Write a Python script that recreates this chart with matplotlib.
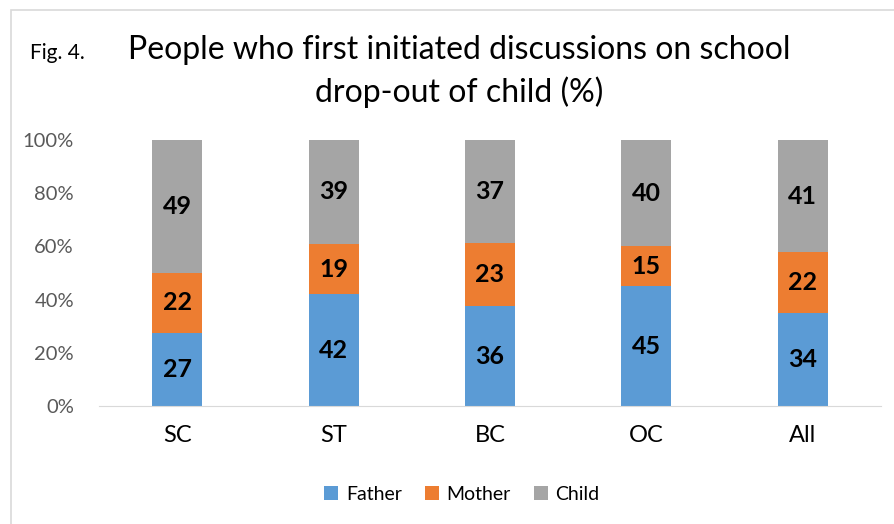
import numpy as np
import matplotlib
matplotlib.use("Agg")
import matplotlib.pyplot as plt
from matplotlib.patches import Rectangle

categories = ["SC", "ST", "BC", "OC", "All"]
father = [27, 42, 36, 45, 34]
mother = [22, 19, 23, 15, 22]
child = [49, 39, 37, 40, 41]

series = [("Father", father, "#5b9bd5"),
          ("Mother", mother, "#ed7d31"),
          ("Child", child, "#a5a5a5")]

plt.rcParams['font.family'] = ['Lato', 'DejaVu Sans']

fig = plt.figure(figsize=(8.95, 5.24), dpi=100)
ax = fig.add_axes([99 / 895, 1 - 406 / 524, 782 / 895, 266 / 524])

# chart border
fig.patches.append(Rectangle((11 / 895, -0.01), 1.0, 1 - 10 / 524 + 0.01,
                             transform=fig.transFigure, fill=False,
                             edgecolor="#d9d9d9", linewidth=1.2))

x = np.arange(len(categories))
totals = np.array(father) + np.array(mother) + np.array(child)
bottom = np.zeros(len(categories))
for name, vals, color in series:
    share = np.array(vals) / totals * 100
    ax.bar(x, share, 0.32, bottom=bottom, color=color, label=name)
    for xi, b, s, v in zip(x, bottom, share, vals):
        ax.text(xi, b + s / 2, str(v), ha="center", va="center",
                fontsize=18, fontweight="bold", color="black")
    bottom += share

ax.set_xlim(-0.5, 4.5)
ax.set_ylim(0, 100)
ax.set_yticks([0, 20, 40, 60, 80, 100])
ax.set_yticklabels([f"{t}%" for t in range(0, 101, 20)], fontsize=14.5, color="#595959")
ax.set_xticks(x)
ax.set_xticklabels(categories, fontsize=17, color="black")
ax.tick_params(axis="both", length=0)
ax.tick_params(axis="x", pad=14)
ax.tick_params(axis="y", pad=18)
for side in ["top", "right", "left"]:
    ax.spines[side].set_visible(False)
ax.spines["bottom"].set_color("#d9d9d9")

fig.text(30 / 895, 1 - 53 / 524, "Fig. 4.", fontsize=15, va="center", ha="left")
fig.text(459 / 895, 1 - 50 / 524, "People who first initiated discussions on school",
         fontsize=23, ha="center", va="center")
fig.text(459 / 895, 1 - 92 / 524, "drop-out of child (%)",
         fontsize=23, ha="center", va="center")

ax.legend(loc="center", bbox_to_anchor=(462 / 895, 1 - 494 / 524),
          bbox_transform=fig.transFigure, ncol=3, frameon=False,
          fontsize=14, handlelength=0.7, handleheight=0.7,
          columnspacing=1.2, handletextpad=0.4)

plt.savefig("out.png", dpi=100)
plt.close()
